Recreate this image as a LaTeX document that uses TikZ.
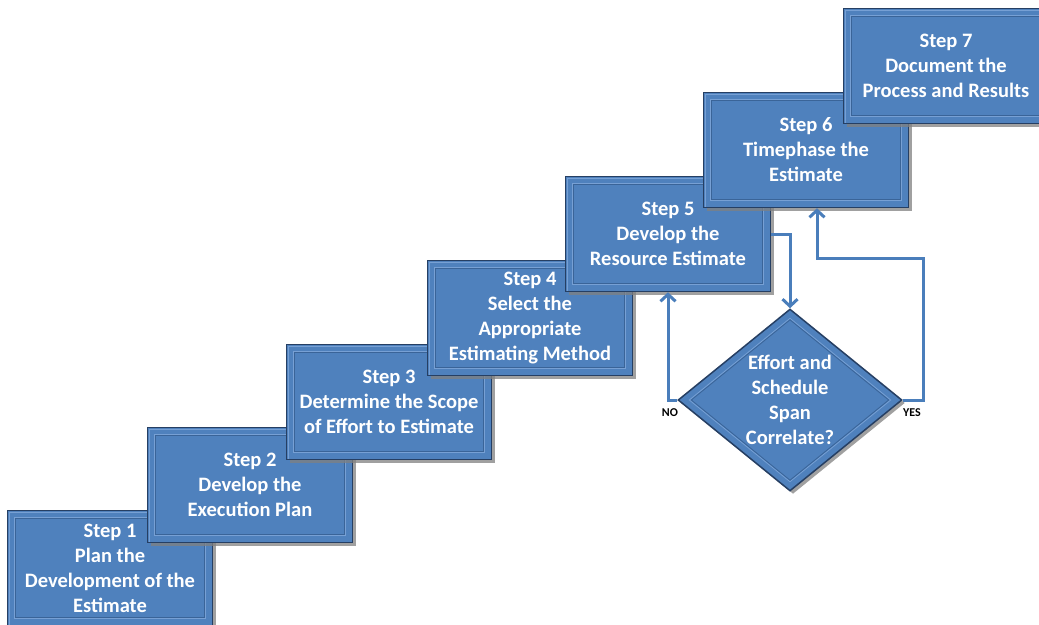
\documentclass[tikz,border=0pt]{standalone}
\usepackage{fontspec}
\setmainfont{Carlito}
\usetikzlibrary{shapes.geometric,shadows,arrows.meta}
\definecolor{stepblue}{HTML}{4F81BD}
\definecolor{stepdark}{HTML}{263F63}
\definecolor{stepline}{HTML}{3A6498}
\definecolor{steplight}{HTML}{77A0D4}
\definecolor{linkblue}{HTML}{4A7EBB}

\begin{document}
\begin{tikzpicture}[x=1pt,y=-1pt,
  stepbox/.style={rectangle,fill=stepblue,draw=stepdark,line width=1.5pt,
    minimum width=205pt,minimum height=115pt,inner sep=0pt,align=center,
    text=white,font=\fontsize{20.5}{25}\selectfont\bfseries,
    drop shadow={shadow xshift=3pt,shadow yshift=-3pt,opacity=0.75},
    path picture={
      \draw[steplight,line width=1.6pt]
      ([shift={(2pt,-2pt)}]path picture bounding box.south west) --
      ([shift={(2pt,-2pt)}]path picture bounding box.north west) --
      ([shift={(-2pt,-2pt)}]path picture bounding box.north east);
      \draw[steplight,line width=0.8pt]
      ([shift={(7pt,-7pt)}]path picture bounding box.north west) rectangle
      ([shift={(-7pt,7pt)}]path picture bounding box.south east);
      \draw[stepline,line width=0.8pt]
      ([shift={(8pt,-8pt)}]path picture bounding box.north west) rectangle
      ([shift={(-8pt,8pt)}]path picture bounding box.south east);}},
  check/.style={diamond,fill=stepblue,draw=stepdark,line width=1.5pt,
    minimum width=224pt,minimum height=182pt,inner sep=0pt,aspect=1.23,
    align=center,text=white,font=\fontsize{20.5}{25}\selectfont\bfseries,
    drop shadow={shadow xshift=3pt,shadow yshift=-3pt,opacity=0.75},
    path picture={
      \draw[steplight,line width=0.8pt]
      ([yshift=-9pt]path picture bounding box.north) --
      ([xshift=-11pt]path picture bounding box.east) --
      ([yshift=9pt]path picture bounding box.south) --
      ([xshift=11pt]path picture bounding box.west) -- cycle;
      \draw[stepline,line width=0.8pt]
      ([yshift=-10.5pt]path picture bounding box.north) --
      ([xshift=-13pt]path picture bounding box.east) --
      ([yshift=10.5pt]path picture bounding box.south) --
      ([xshift=13pt]path picture bounding box.west) -- cycle;}},
  link/.style={draw=linkblue,line width=3pt,
    -{Straight Barb[length=7pt,width=15pt]}},
  answer/.style={font=\fontsize{12}{14}\selectfont\bfseries}]

  \useasboundingbox (0,0) rectangle (1039,624);
  \clip (0,0) rectangle (1039,624);

  \node[stepbox] (s1) at (110,568) {Step 1\\Plan the\\Development of the\\Estimate};
  \node[stepbox] (s2) at (250,485) {Step 2\\Develop the\\Execution Plan};
  \node[stepbox] (s3) at (389,402) {Step 3\\Determine the Scope\\of Effort to Estimate};
  \node[stepbox] (s4) at (530,318) {Step 4\\Select the\\Appropriate\\Estimating Method};
  \node[stepbox] (s5) at (668,234) {Step 5\\Develop the\\Resource Estimate};
  \node[stepbox] (s6) at (806,150) {Step 6\\Timephase the\\Estimate};
  \node[stepbox] (s7) at (946,66) {Step 7\\Document the\\Process and Results};

  \node[check] (span) at (790,400) {Effort and\\Schedule\\Span\\Correlate?};

  \node[answer] (no) at (670,413) {NO};
  \node[answer] (yes) at (912,413) {YES};

  \coordinate (back) at (923,258);
  \draw[link] (s5.east) -| (span.north);
  \draw[link] (span.west) -| (s5.south);
  \draw[link] (span.east) -| (back) -| ([xshift=11pt]s6.south);

\end{tikzpicture}
\end{document}
